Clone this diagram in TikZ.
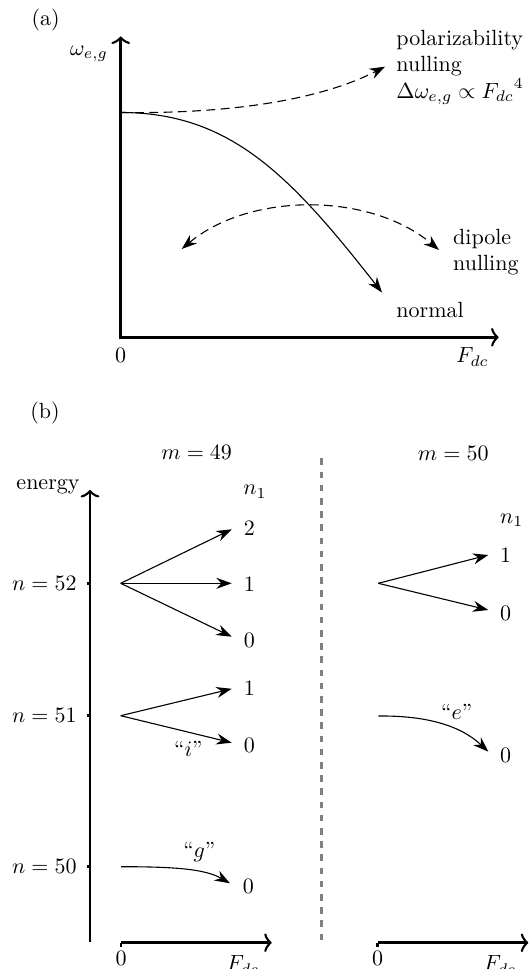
\documentclass[tikz,border=0pt]{standalone}
\usetikzlibrary{arrows.meta}
\begin{document}
\begin{tikzpicture}[x=0.4545pt,y=-0.4545pt,
  axis/.style={line width=1.2pt},
  axtip/.style={arrows={-Classical TikZ Rightarrow[length=3.4pt,width=8.5pt]}},
  axboth/.style={arrows={Classical TikZ Rightarrow[length=3.4pt,width=8.5pt]-Classical TikZ Rightarrow[length=3.4pt,width=8.5pt]}},
  curve/.style={line width=0.5pt},
  tip/.style={arrows={-Stealth[length=7pt,width=5pt,inset=2.3pt]}},
  tipboth/.style={arrows={Stealth[length=7pt,width=5pt,inset=2.3pt]-Stealth[length=7pt,width=5pt,inset=2.3pt]}},
  dsh/.style={dash pattern=on 4pt off 2.5pt},
  sep/.style={gray, line width=1.1pt, dash pattern=on 3pt off 3pt},
  lbl/.style={inner sep=0pt}]
\useasboundingbox (0,0) rectangle (530,969);

% ---------------- panel (a)
\node[lbl] (pa) at (45.6,20.3) {(a)};
\node[lbl] (wlab) at (89,54) {$\omega_{e,g}$};
\draw[axis,axboth] (120.7,36.5) |- (498.6,337.3);
\node[lbl] (za) at (120.7,355) {0};
\node[lbl] (fa) at (472.5,357) {$F_{dc}$};

\coordinate (A) at (120.7,112.5);
\coordinate (Ptip) at (385,66.7);
\coordinate (Ntip) at (382,292.5);
\coordinate (Dl) at (181.7,249);
\coordinate (Dr) at (439,250);

\draw[curve,dsh,tip] (A) .. controls (230,114) and (320,100) .. (Ptip);
\draw[curve,tip] (A) .. controls (230,112.5) and (290,175) .. (Ntip);
\draw[curve,dsh,tipboth] (Dl) .. controls (250,192) and (370,192) .. (Dr);

\node[lbl,anchor=north west,align=left] (pol) at (396,29.7)
  {polarizability\\nulling\\$\Delta\omega_{e,g}\propto {F_{dc}}^4$};
\node[lbl,anchor=north west,align=left] (dip) at (452.7,228.7) {dipole\\nulling};
\node[lbl,anchor=base west] (nor) at (396,318) {normal};

% ---------------- panel (b)
\node[lbl] (pb) at (45,413.3) {(b)};
\node[lbl] (m49) at (196.7,452.7) {$m=49$};
\node[lbl] (m50) at (453.3,453.3) {$m=50$};
\draw[sep] (321.7,458.3) -- (321.7,943);

\node[lbl,anchor=base] (en) at (48,489) {energy};
\draw[axis,axtip] (90,941.7) -- (90,490);
\draw[axis] (86.5,583.3) -- (90,583.3);
\draw[axis] (86.5,715.7) -- (90,715.7);
\draw[axis] (86.5,866.7) -- (90,866.7);
\node[lbl,anchor=east] (n52) at (77,583.3) {$n=52$};
\node[lbl,anchor=east] (n51) at (77,715.7) {$n=51$};
\node[lbl,anchor=east] (n50) at (77,866.7) {$n=50$};

% bottom axes
\draw[axis,axtip] (121,942.7) -- (271.7,942.7);
\draw[axis] (121,942.7) -- (121,946.5);
\node[lbl] (zb1) at (121,958.5) {0};
\node[lbl] (fb1) at (243,965) {$F_{dc}$};
\draw[axis,axtip] (377.7,942.7) -- (528.3,942.7);
\draw[axis] (377.7,942.7) -- (377.7,946.5);
\node[lbl] (zb2) at (377.7,958.5) {0};
\node[lbl] (fb2) at (500,965) {$F_{dc}$};

% m = 49
\node[lbl] (n1a) at (255,491.7) {$n_1$};
\coordinate (s52) at (120.7,583.3);
\coordinate (s51) at (120.7,715.7);
\coordinate (s50) at (121,866.7);
\coordinate (a52t2) at (231.7,529.3);
\coordinate (a52t1) at (231.7,583.3);
\coordinate (a52t0) at (231.7,636.7);
\coordinate (a51t1) at (231.7,688.8);
\coordinate (a51t0) at (231.7,742.7);
\coordinate (a50t0) at (230,883.3);
\node[lbl] (l522) at (249.3,528.3) {2};
\node[lbl] (l521) at (249.3,584) {1};
\node[lbl] (l520) at (249.3,640) {0};
\node[lbl] (l511) at (249.3,688.3) {1};
\node[lbl] (l510) at (249.3,745) {0};
\node[lbl] (l500) at (248.3,886.7) {0};
\draw[curve,tip] (s52) -- (a52t2);
\draw[curve,tip] (s52) -- (a52t1);
\draw[curve,tip] (s52) -- (a52t0);
\draw[curve,tip] (s51) -- (a51t1);
\draw[curve,tip] (s51) -- (a51t0);
\draw[curve,tip] (s50) .. controls (175,866.7) and (205,869) .. (a50t0);
\node[lbl] (qi) at (188.3,749.3) {``$i$''};
\node[lbl] (qg) at (199.3,851.7) {``$g$''};

% m = 50
\node[lbl] (n1b) at (511.7,520) {$n_1$};
\coordinate (t52) at (378.3,583.3);
\coordinate (t51) at (378.3,716);
\coordinate (b52t1) at (488.3,555);
\coordinate (b52t0) at (488.3,610);
\coordinate (b51t0) at (488.3,751.7);
\node[lbl] (m521) at (505.7,555) {1};
\node[lbl] (m520) at (505.7,613.3) {0};
\node[lbl] (m510) at (505.7,755) {0};
\draw[curve,tip] (t52) -- (b52t1);
\draw[curve,tip] (t52) -- (b52t0);
\draw[curve,tip] (t51) .. controls (425,715.5) and (460,725) .. (b51t0);
\node[lbl] (qe) at (456.7,711.7) {``$e$''};
\end{tikzpicture}
\end{document}
